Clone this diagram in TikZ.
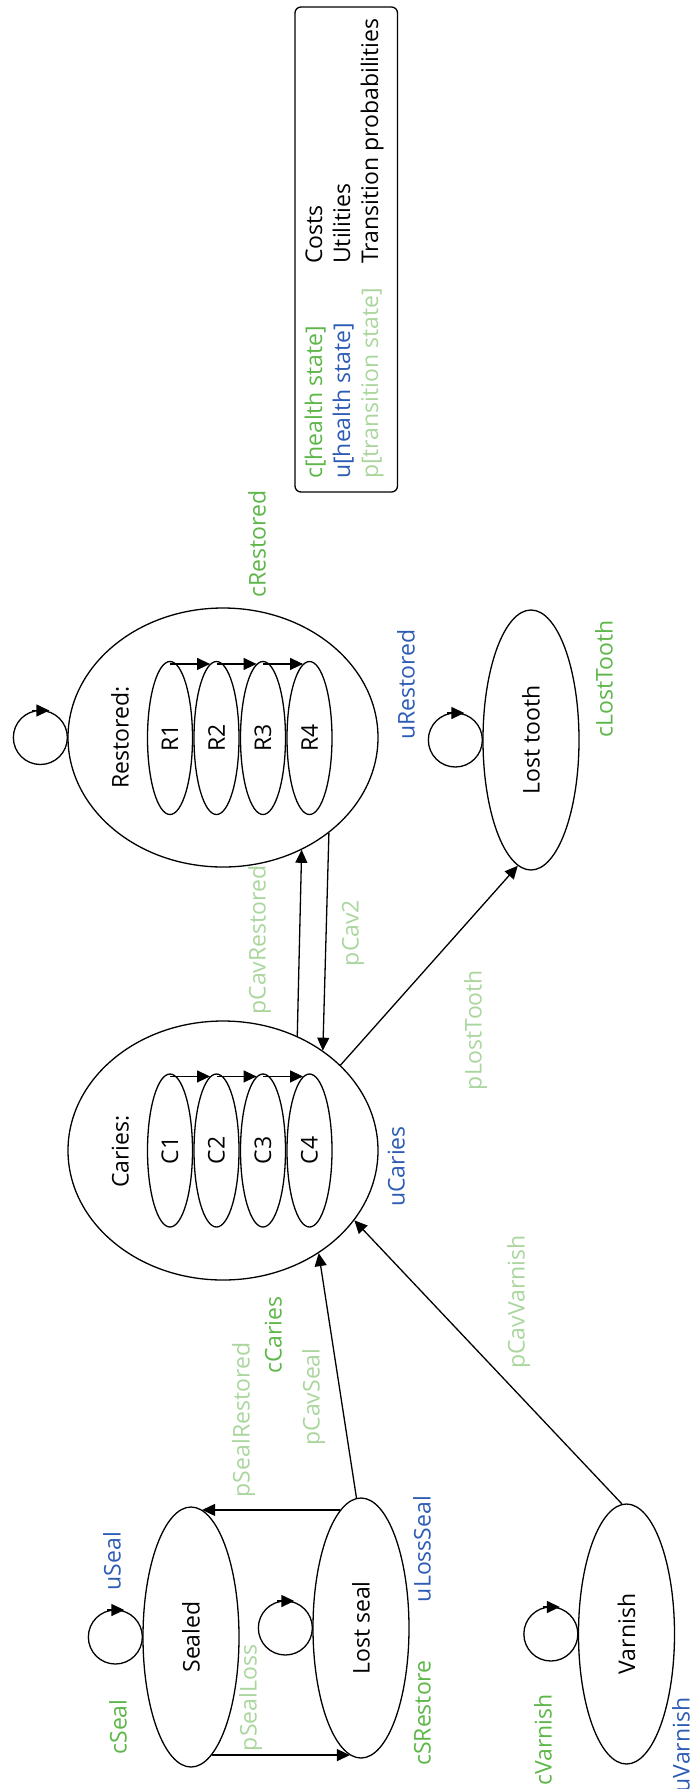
\documentclass[tikz,border=0pt]{standalone}
\usepackage{fontspec}
\setmainfont{Open Sans}
\usetikzlibrary{shapes.geometric,arrows.meta,calc}
\definecolor{cgreen}{RGB}{92,182,72}
\definecolor{ublue}{RGB}{45,92,180}
\definecolor{plight}{RGB}{170,214,158}
\begin{document}
\begin{tikzpicture}[x=1pt,y=-1pt,
  font=\fontsize{23}{27}\selectfont,
  state/.style={draw, ellipse, minimum width=96pt, minimum height=260pt, inner sep=0pt, line width=1.3pt},
  bigstate/.style={draw, ellipse, minimum width=310pt, minimum height=259pt, inner sep=0pt, line width=1.3pt},
  substate/.style={draw, ellipse, minimum width=45pt, minimum height=153pt, inner sep=0pt, line width=1.3pt},
  lbl/.style={rotate=90, inner sep=0pt, text height=0.72em, text depth=0pt},
  legtxt/.style={rotate=90, inner sep=0pt, anchor=base west},
  arr/.style={line width=1.3pt, -{Triangle[length=13pt,width=12pt]}},
  loopc/.style={line width=1.3pt},
]
\useasboundingbox (0,0) rectangle (696,1789);

% legend
\node[draw, rounded corners=6pt, line width=1.3pt, minimum width=102.5pt, minimum height=485pt, inner sep=0pt] (legend) at (346.25,249.5) {};
\node[legtxt, text=cgreen] (leg1) at (322,479) {c[health state]};
\node[legtxt, text=ublue] (leg2) at (350,479) {u[health state]};
\node[legtxt, text=plight] (leg3) at (378,479) {p[transition state]};
\node[legtxt] (leg4) at (322,264) {Costs};
\node[legtxt] (leg5) at (350,264) {Utilities};
\node[legtxt] (leg6) at (378,264) {Transition probabilities};

% states
\node[state] (sealed) at (191,1637) {\rotatebox{90}{Sealed}};
\node[state] (lostseal) at (361,1628) {\rotatebox{90}{Lost seal}};
\node[state] (varnish) at (626.5,1634) {\rotatebox{90}{Varnish}};
\node[state] (losttooth) at (531,740) {\rotatebox{90}{Lost tooth}};
\node[bigstate] (caries) at (223,1150.5) {};
\node[bigstate] (restored) at (223,737.5) {};

\node[lbl] (cariestxt) at (125,1151.5) {Caries:};
\node[lbl] (restoredtxt) at (125,737.5) {Restored:};

\node[substate] (c1) at (170,1150.5) {\rotatebox{90}{C1}};
\node[substate] (c2) at (216.5,1150.5) {\rotatebox{90}{C2}};
\node[substate] (c3) at (263,1150.5) {\rotatebox{90}{C3}};
\node[substate] (c4) at (309.5,1150.5) {\rotatebox{90}{C4}};
\node[substate] (r1) at (170,738) {\rotatebox{90}{R1}};
\node[substate] (r2) at (216.5,738) {\rotatebox{90}{R2}};
\node[substate] (r3) at (263,738) {\rotatebox{90}{R3}};
\node[substate] (r4) at (309.5,738) {\rotatebox{90}{R4}};

\draw[arr] (c1.north |- c2.95) -- (c2.95);
\draw[arr] (c2.north |- c3.95) -- (c3.95);
\draw[arr] (c3.north |- c4.95) -- (c4.95);
\draw[arr] (r1.north |- r2.95) -- (r2.95);
\draw[arr] (r2.north |- r3.95) -- (r3.95);
\draw[arr] (r3.north |- r4.95) -- (r4.95);

% self loops
\foreach \n in {sealed,lostseal,varnish,losttooth,restored}{
  \draw[loopc] ($(\n.west)+(-27,0)$) circle[radius=27pt];
  \draw[arr] ($(\n.west)+(-35,-27)$) -- ($(\n.west)+(-18,-27)$);
}

% transitions
\draw[arr] (lostseal.100) -- (lostseal.100 -| sealed.85);
\draw[arr] (sealed.280) -- (sealed.280 -| lostseal.265);
\draw[arr] (lostseal.92) -- (caries.-47);
\draw[arr] (varnish.92) -- (caries.-28.6);
\draw[arr] (caries.57) -- (restored.-55);
\draw[arr] (restored.-42) -- (caries.45);
\draw[arr] (caries.36) -- (losttooth.264);

% labels
\node[lbl, text=ublue] (luseal) at (117,1561) {uSeal};
\node[lbl, text=cgreen] (lcseal) at (123,1727) {cSeal};
\node[lbl, text=plight] (lpsealloss) at (253,1698) {pSealLoss};
\node[lbl, text=plight] (lpsealrestored) at (246,1420) {pSealRestored};
\node[lbl, text=plight] (lpcavseal) at (316,1397) {pCavSeal};
\node[lbl, text=cgreen] (lccaries) at (278,1335) {cCaries};
\node[lbl, text=ublue] (lulossseal) at (427,1549) {uLossSeal};
\node[lbl, text=cgreen] (lcsrestore) at (427,1713) {cSRestore};
\node[lbl, text=cgreen] (lcvarnish) at (548,1740) {cVarnish};
\node[lbl, text=ublue] (luvarnish) at (686,1745) {uVarnish};
\node[lbl, text=ublue] (lucaries) at (401,1166.5) {uCaries};
\node[lbl, text=plight] (lplosttooth) at (478,1030) {pLostTooth};
\node[lbl, text=plight] (lpcavvarnish) at (521,1302) {pCavVarnish};
\node[lbl, text=plight] (lpcavrestored) at (262,940) {pCavRestored};
\node[lbl, text=plight] (lpcav2) at (355,933) {pCav2};
\node[lbl, text=cgreen] (lcrestored) at (262,544) {cRestored};
\node[lbl, text=ublue] (lurestored) at (411,684.5) {uRestored};
\node[lbl, text=cgreen] (lclosttooth) at (609,679) {cLostTooth};
\end{tikzpicture}
\end{document}
